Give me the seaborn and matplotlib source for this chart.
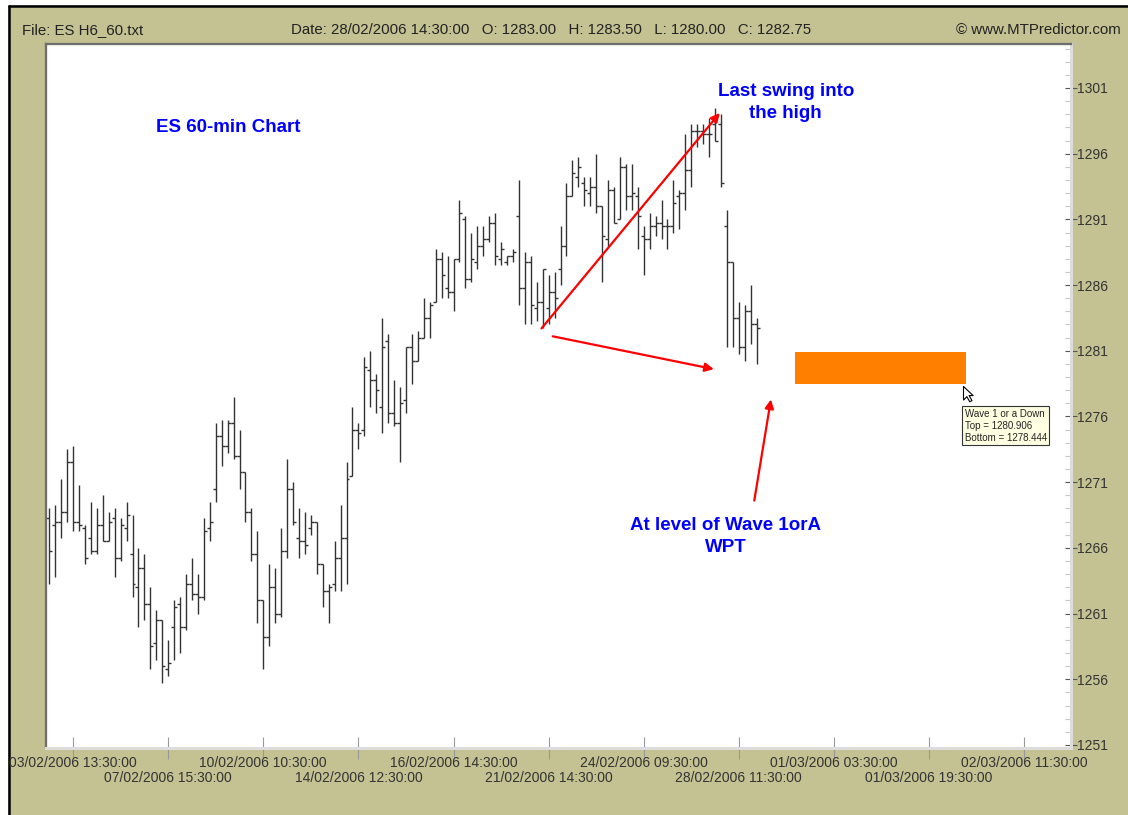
import numpy as np
import pandas as pd
import matplotlib
matplotlib.use("Agg")
import matplotlib.pyplot as plt
import seaborn as sns
from matplotlib.patches import Rectangle
from matplotlib.lines import Line2D
from matplotlib.ticker import MultipleLocator

# Style
sns.set_theme(style="white")
plt.rcParams['font.family'] = ['Liberation Sans', 'DejaVu Sans']

# ES H6 60-min bars (one bar per hour)
opens = [1268.25, 1267.75, 1268.0, 1268.75, 1272.5, 1268.0, 1267.5, 1266.75, 1265.75, 1267.75,
         1266.5, 1268.25, 1265.25, 1267.5, 1265.5, 1263.0, 1264.5, 1261.75, 1258.75, 1260.5,
         1256.75, 1260.0, 1261.75, 1260.0, 1263.25, 1262.5, 1262.25, 1267.5, 1270.5, 1274.5,
         1273.75, 1275.5, 1273.0, 1271.75, 1268.75, 1265.5, 1262.0, 1259.25, 1263.0, 1261.0,
         1265.75, 1270.5, 1266.75, 1266.5, 1267.5, 1268.0, 1264.75, 1262.75, 1263.25, 1265.25,
         1266.75, 1271.5, 1275.0, 1275.0, 1279.5, 1278.75, 1276.75, 1281.75, 1276.25, 1275.5,
         1277.25, 1281.25, 1280.25, 1282.0, 1283.5, 1284.75, 1288.0, 1285.75, 1285.5, 1288.0,
         1291.0, 1286.5, 1287.75, 1289.0, 1289.5, 1290.75, 1288.0, 1287.75, 1288.25, 1291.25,
         1285.75, 1287.75, 1284.25, 1284.75, 1284.25, 1285.5, 1287.25, 1289.0, 1292.75, 1294.25,
         1293.75, 1293.0, 1293.5, 1292.0, 1289.5, 1293.25, 1291.0, 1295.0, 1292.75, 1292.75,
         1289.75, 1289.5, 1290.5, 1290.75, 1290.5, 1290.5, 1292.75, 1293.0, 1294.75, 1297.75,
         1297.75, 1297.5, 1298.25, 1298.25, 1290.5, 1287.75, 1283.5, 1281.25, 1284.0, 1283.0]
highs = [1269.0, 1269.25, 1271.25, 1273.5, 1273.75, 1270.75, 1267.75, 1269.5, 1269.0, 1270.0,
         1268.75, 1269.0, 1268.25, 1269.5, 1268.5, 1266.0, 1265.5, 1263.0, 1261.25, 1260.5,
         1259.0, 1262.0, 1262.25, 1264.0, 1265.25, 1264.0, 1268.25, 1269.5, 1275.5, 1275.75,
         1275.75, 1277.5, 1275.0, 1271.75, 1269.0, 1267.25, 1262.0, 1264.75, 1264.5, 1267.5,
         1272.75, 1271.0, 1269.0, 1268.75, 1268.5, 1268.0, 1264.75, 1263.25, 1266.5, 1269.25,
         1272.5, 1276.75, 1275.5, 1280.5, 1281.0, 1279.25, 1283.5, 1282.25, 1278.75, 1278.25,
         1281.25, 1282.25, 1282.5, 1285.0, 1284.75, 1288.75, 1288.5, 1288.25, 1288.0, 1292.5,
         1291.25, 1290.0, 1290.5, 1290.5, 1291.25, 1291.5, 1289.25, 1288.25, 1288.75, 1294.0,
         1288.5, 1288.25, 1286.25, 1287.25, 1286.75, 1287.0, 1290.5, 1293.75, 1295.5, 1295.75,
         1294.25, 1294.25, 1296.0, 1292.0, 1294.0, 1293.5, 1295.75, 1295.25, 1295.25, 1293.5,
         1290.5, 1291.5, 1291.25, 1292.5, 1291.0, 1294.0, 1293.25, 1297.5, 1298.25, 1298.25,
         1298.25, 1298.75, 1299.5, 1299.0, 1291.75, 1287.75, 1284.75, 1284.5, 1286.0, 1283.5]
lows = [1263.25, 1263.75, 1266.75, 1268.0, 1267.25, 1267.25, 1264.75, 1265.5, 1265.5, 1266.5,
        1266.5, 1263.75, 1265.0, 1266.5, 1262.25, 1260.0, 1260.5, 1256.75, 1257.5, 1255.75,
        1256.25, 1257.5, 1258.0, 1259.75, 1262.0, 1261.0, 1262.0, 1266.5, 1269.5, 1272.25,
        1273.25, 1272.75, 1270.5, 1268.0, 1265.0, 1260.25, 1256.75, 1258.5, 1260.25, 1260.75,
        1265.25, 1267.75, 1265.25, 1265.5, 1267.0, 1264.0, 1261.5, 1260.25, 1262.75, 1262.75,
        1263.25, 1271.5, 1273.5, 1274.5, 1276.75, 1276.25, 1274.75, 1275.5, 1275.25, 1272.5,
        1276.25, 1278.5, 1280.25, 1282.0, 1282.0, 1284.75, 1285.0, 1285.0, 1284.0, 1287.75,
        1285.75, 1286.25, 1287.25, 1288.25, 1289.25, 1287.5, 1287.5, 1287.5, 1287.75, 1284.5,
        1283.0, 1283.0, 1283.25, 1282.75, 1283.0, 1283.5, 1286.0, 1288.25, 1292.75, 1293.5,
        1292.0, 1292.0, 1291.5, 1286.25, 1289.0, 1290.75, 1291.0, 1291.75, 1291.75, 1288.75,
        1286.75, 1288.75, 1289.75, 1289.5, 1288.75, 1290.0, 1290.25, 1291.75, 1293.5, 1296.5,
        1296.75, 1295.75, 1297.0, 1293.5, 1281.25, 1281.25, 1280.75, 1280.25, 1281.5, 1280.0]
closes = [1265.75, 1268.0, 1268.75, 1272.5, 1268.0, 1267.75, 1265.25, 1265.75, 1267.75, 1266.5,
          1268.0, 1265.25, 1267.75, 1268.5, 1263.25, 1264.5, 1261.75, 1258.5, 1260.5, 1257.0,
          1257.25, 1261.5, 1260.0, 1263.25, 1262.5, 1262.25, 1267.25, 1268.0, 1274.5, 1273.75,
          1275.5, 1273.0, 1271.75, 1268.75, 1265.5, 1262.0, 1259.25, 1263.0, 1261.0, 1265.75,
          1270.5, 1268.0, 1266.5, 1266.25, 1268.0, 1264.75, 1262.75, 1263.0, 1265.25, 1266.75,
          1271.25, 1275.0, 1274.75, 1279.75, 1278.75, 1278.0, 1281.25, 1276.25, 1275.5, 1277.0,
          1281.25, 1280.25, 1282.0, 1283.5, 1284.5, 1288.0, 1286.75, 1285.5, 1288.0, 1291.5,
          1286.5, 1288.0, 1289.0, 1289.5, 1290.75, 1288.25, 1288.75, 1288.25, 1288.5, 1285.75,
          1287.75, 1284.5, 1284.75, 1287.25, 1285.5, 1285.0, 1289.0, 1292.75, 1294.5, 1295.0,
          1293.25, 1293.5, 1292.0, 1289.75, 1293.25, 1290.75, 1295.0, 1292.75, 1293.0, 1291.25,
          1289.5, 1290.5, 1290.75, 1290.5, 1290.5, 1292.25, 1293.0, 1294.75, 1297.75, 1297.75,
          1297.5, 1297.5, 1297.0, 1293.75, 1287.75, 1283.5, 1281.25, 1284.0, 1283.0, 1282.75]

# date labels under the x axis, one every 16 bars starting at bar 4
date_labels = ["03/02/2006 13:30:00", "07/02/2006 15:30:00", "10/02/2006 10:30:00",
               "14/02/2006 12:30:00", "16/02/2006 14:30:00", "21/02/2006 14:30:00",
               "24/02/2006 09:30:00", "28/02/2006 11:30:00", "01/03/2006 03:30:00",
               "01/03/2006 19:30:00", "02/03/2006 11:30:00"]
price_ticks = [1251, 1256, 1261, 1266, 1271, 1276, 1281, 1286, 1291, 1296, 1301]

# projected wave 1 / A zone
wave_top = 1280.906
wave_bottom = 1278.444

OLIVE = '#C4C292'
BAR_COLOR = '#333333'

df = pd.DataFrame({'open': opens, 'high': highs, 'low': lows, 'close': closes})
df['bar'] = np.arange(len(df))

fig = plt.figure(figsize=(11.28, 8.15), dpi=100)
fig.patch.set_facecolor(OLIVE)

# white margin outside the window, black window edge on top and left
fig.patches.append(Rectangle((0, 1 - 5 / 815), 1, 5 / 815, transform=fig.transFigure,
                             facecolor='white', edgecolor='none', zorder=-1))
fig.patches.append(Rectangle((0, 0), 8 / 1128, 1, transform=fig.transFigure,
                             facecolor='white', edgecolor='none', zorder=-1))
fig.lines.append(Line2D([8.5 / 1128, 1], [1 - 6 / 815, 1 - 6 / 815], transform=fig.transFigure,
                        color='black', lw=1.8, zorder=-1))
fig.lines.append(Line2D([9.3 / 1128, 9.3 / 1128], [0, 1 - 5.5 / 815], transform=fig.transFigure,
                        color='black', lw=1.8, zorder=-1))

ax = fig.add_axes([0.04034, 0.0816, 0.90869, 0.8638])
ax.set_facecolor('white')

# OHLC bars
ax.vlines(df['bar'], df['low'], df['high'], color=BAR_COLOR, lw=1.0)
ax.hlines(df['open'], df['bar'] - 0.5, df['bar'], color=BAR_COLOR, lw=1.0)
ax.hlines(df['close'], df['bar'], df['bar'] + 0.5, color=BAR_COLOR, lw=1.0)

# wave zone box
zone_start, zone_end = 125.5, 154.3
ax.add_patch(Rectangle((zone_start, wave_bottom), zone_end - zone_start, wave_top - wave_bottom,
                       facecolor='#FF8000', edgecolor='none', zorder=3))

# red arrows
arrow_kw = dict(arrowstyle='-|>', color='#FF0000', lw=1.6, mutation_scale=13, shrinkA=0, shrinkB=0)
ax.annotate('', xy=(112.8, 1299.1), xytext=(82.8, 1282.7), arrowprops=arrow_kw)
ax.annotate('', xy=(111.8, 1279.6), xytext=(84.7, 1282.1), arrowprops=arrow_kw)
ax.annotate('', xy=(121.4, 1277.3), xytext=(118.6, 1269.6), arrowprops=arrow_kw)

# blue notes
note_kw = dict(color='#0000FF', fontsize=13.5, fontweight='bold', ha='center', va='center',
               linespacing=1.38)
ax.text(30.1, 1298.0, "ES 60-min Chart", **note_kw)
ax.text(123.9, 1299.9, "Last swing into\nthe high", **note_kw)
ax.text(113.8, 1266.9, "At level of Wave 1orA\nWPT", **note_kw)

# tooltip and mouse pointer
ax.text(154.0, 1276.6, f"Wave 1 or a Down\nTop = {wave_top:.3f}\nBottom = {wave_bottom:.3f}",
        fontsize=7, color='#222222', ha='left', va='top', linespacing=1.25, zorder=5,
        bbox=dict(boxstyle='square,pad=0.25', facecolor='#FFFFE1', edgecolor='#333333', lw=0.8))
cursor = [(0, 0), (0, -12), (3, -9), (5.5, -13.5), (7.5, -12.5), (5, -8), (8.5, -8), (0, 0)]
ax.plot([zone_end - 0.6], [wave_bottom - 0.1], marker=cursor, markersize=22,
        markerfacecolor='white', markeredgecolor='black', markeredgewidth=0.8, zorder=6)

# axes limits and ticks
ax.set_xlim(-0.64, 171.8)
ax.set_ylim(1250.73, 1304.31)

# two rows of date labels: upper row on major ticks, lower row on minor ticks
tick_pos = 4 + 16 * np.arange(len(date_labels))
ax.set_xticks(tick_pos[0::2])
ax.set_xticklabels(date_labels[0::2])
ax.set_xticks(tick_pos[1::2], minor=True)
ax.set_xticklabels(date_labels[1::2], minor=True)
ax.tick_params(axis='x', which='both', direction='inout', length=16, width=0.8,
               color='#999999', labelsize=10, labelcolor='#333333', bottom=True)
ax.tick_params(axis='x', which='major', pad=-2.5)
ax.tick_params(axis='x', which='minor', pad=8.5)

ax.yaxis.tick_right()
ax.set_yticks(price_ticks)
ax.yaxis.set_minor_locator(MultipleLocator(1))
ax.tick_params(axis='y', which='major', direction='inout', length=8, width=0.8,
               color='#555555', labelsize=10, labelcolor='#333333', pad=1, right=True)
ax.tick_params(axis='y', which='minor', direction='in', length=4, width=0.8,
               color='#c8c8c8', right=True)

for side in ['left', 'top']:
    ax.spines[side].set_color('#6e6e6e')
    ax.spines[side].set_linewidth(1.65)
for side in ['right', 'bottom']:
    ax.spines[side].set_color('#dcdcdc')
    ax.spines[side].set_linewidth(2.2)

# header line
head_kw = dict(fontsize=10.8, color='#222222', va='center')
fig.text(22 / 1128, 1 - 30 / 815, "File: ES H6_60.txt", ha='left', **head_kw)
fig.text(291 / 1128, 1 - 30 / 815,
         f"Date: 28/02/2006 14:30:00   O: {opens[-1]:.2f}   H: {highs[-1]:.2f}   "
         f"L: {lows[-1]:.2f}   C: {closes[-1]:.2f}", ha='left', **head_kw)
fig.text(1121 / 1128, 1 - 30 / 815, "\u00a9 www.MTPredictor.com", ha='right', **head_kw)

fig.savefig('out.png', dpi=100, facecolor=fig.get_facecolor())
